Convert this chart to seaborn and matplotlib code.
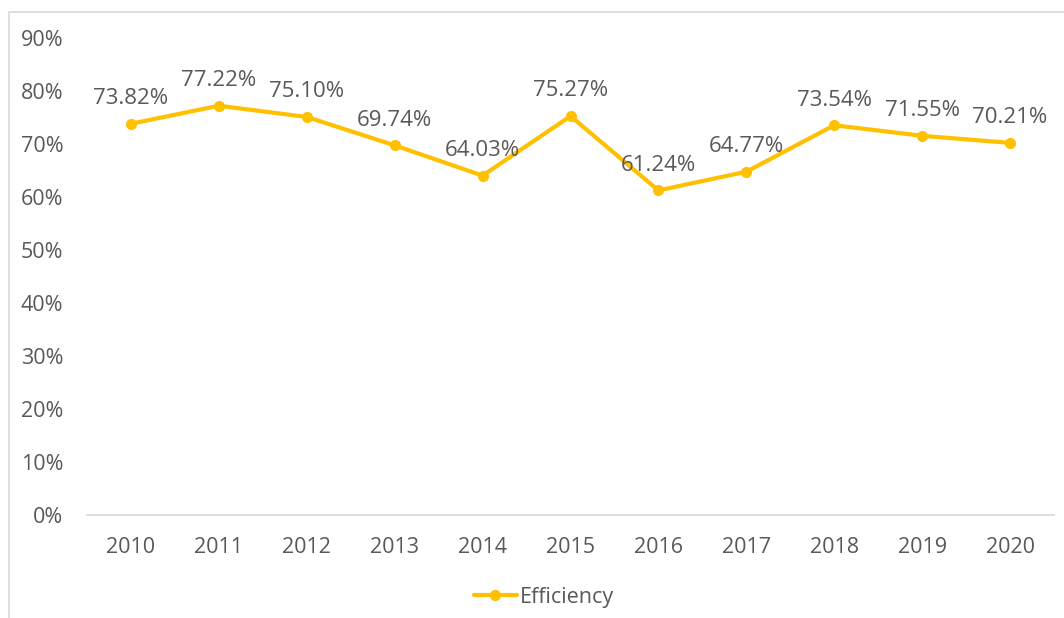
import matplotlib
matplotlib.use("Agg")
import matplotlib.pyplot as plt
import seaborn as sns
import pandas as pd
from matplotlib.patches import Rectangle
from matplotlib.ticker import FuncFormatter

years = [2010, 2011, 2012, 2013, 2014, 2015, 2016, 2017, 2018, 2019, 2020]
efficiency = [73.82, 77.22, 75.10, 69.74, 64.03, 75.27, 61.24, 64.77, 73.54, 71.55, 70.21]
series_name = "Efficiency"

sns.set_style("white")
plt.rcParams['font.family'] = ['Open Sans', 'DejaVu Sans']

GOLD = "#FFC000"
TXT = "#595959"

df = pd.DataFrame({"Year": years, "Value": efficiency, "Series": series_name})

fig = plt.figure(figsize=(10.64, 6.18), dpi=100)
ax = fig.add_axes([87/1064, (618-515)/618, (1054-87)/1064, (515-38)/618])

sns.lineplot(data=df, x="Year", y="Value", hue="Series", palette=[GOLD], ax=ax,
             linewidth=3, marker="o", markersize=8, markeredgewidth=0, legend=True)

for x, y in zip(years, efficiency):
    ax.annotate(f"{y:.2f}%", (x, y), xytext=(0, 10.5), textcoords="offset points",
                ha="center", va="bottom", fontsize=16, color=TXT)

ax.set_xlim(2009.5, 2020.5)
ax.set_ylim(0, 90)
ax.set_yticks(range(0, 91, 10))
ax.yaxis.set_major_formatter(FuncFormatter(lambda v, p: f"{v:.0f}%"))
ax.set_xticks(years)
ax.set_xticklabels([str(y) for y in years])
ax.tick_params(axis="both", length=0, labelsize=15.5, labelcolor=TXT)
ax.tick_params(axis="x", pad=16)
ax.tick_params(axis="y", pad=17)
ax.set_xlabel("")
ax.set_ylabel("")
for s in ["top", "right", "left"]:
    ax.spines[s].set_visible(False)
ax.spines["bottom"].set_color("#D9D9D9")
ax.spines["bottom"].set_linewidth(1.2)
ax.grid(False)

handles, labels = ax.get_legend_handles_labels()
leg = fig.legend(handles, labels, loc="center", bbox_to_anchor=(544/1064, 1 - 597/618),
                 frameon=False, fontsize=15.5, handlelength=2.0, handletextpad=0.15)
for t in leg.get_texts():
    t.set_color(TXT)
ax.get_legend().remove()

fig.patches.append(Rectangle((9/1064, -0.1), 1.2, 1 - 12/618 + 0.1, transform=fig.transFigure,
                             fill=False, edgecolor="#D9D9D9", linewidth=1.2, figure=fig))

fig.savefig("out.png", dpi=100)
